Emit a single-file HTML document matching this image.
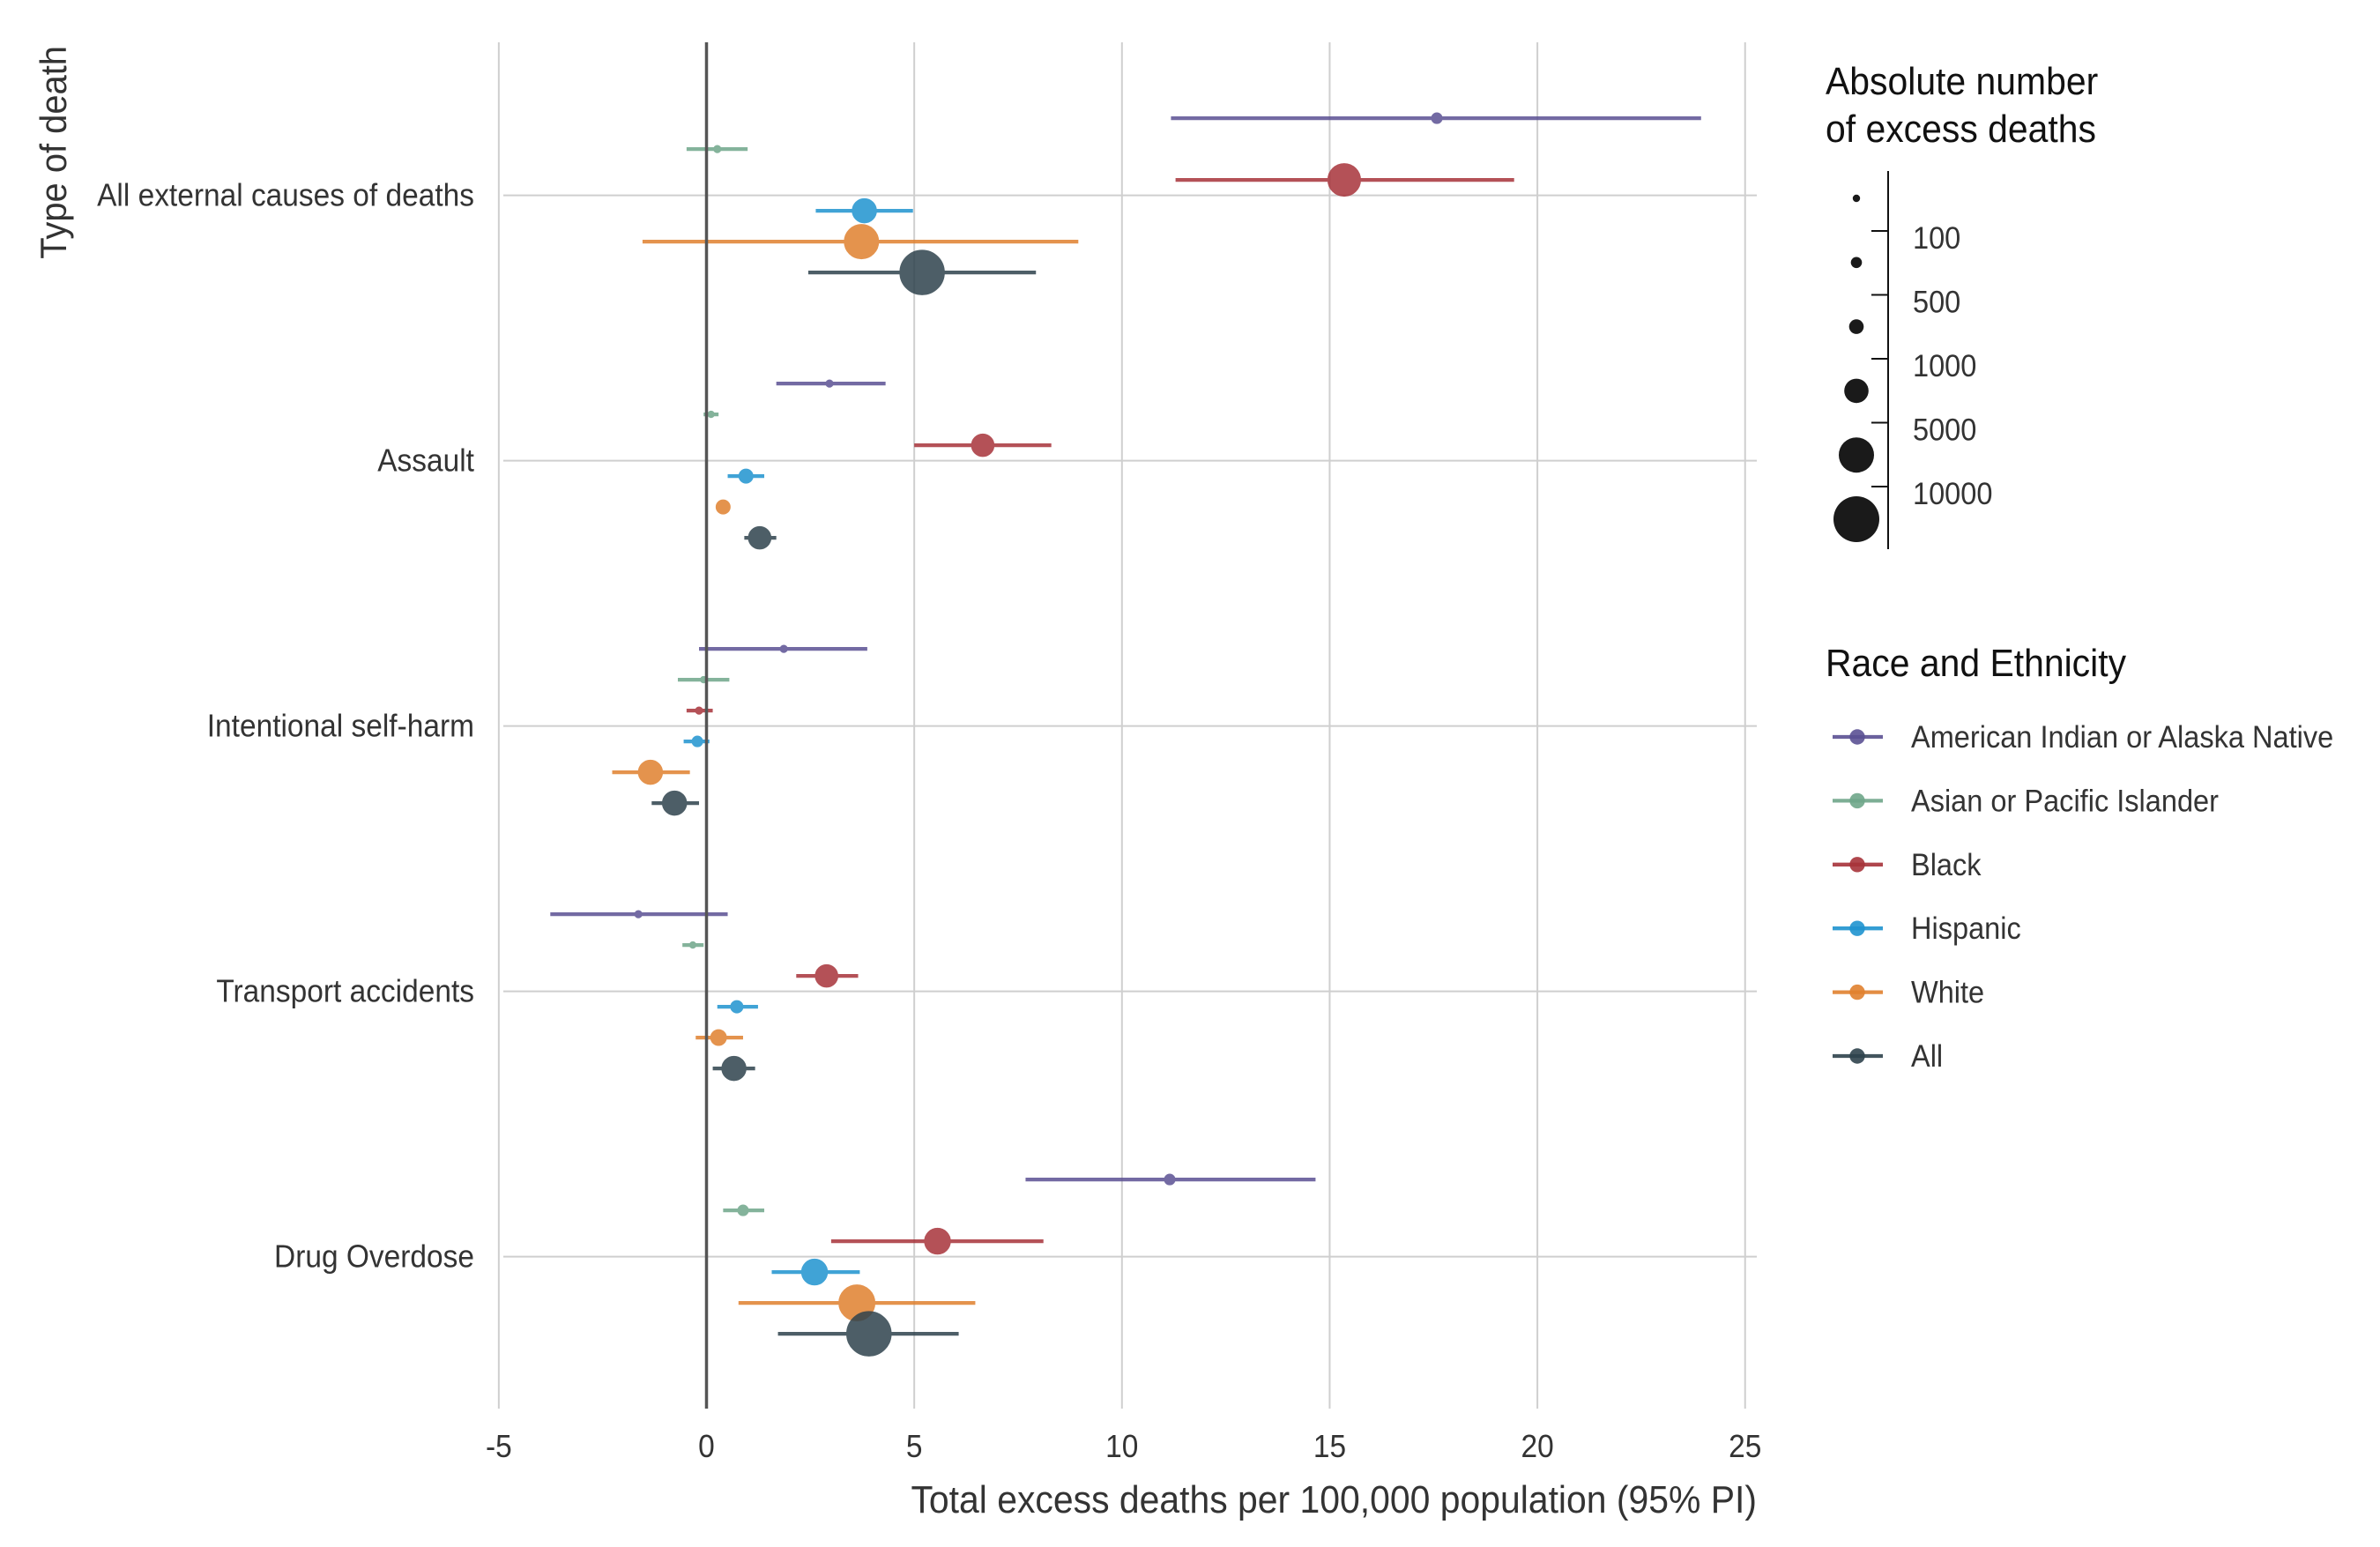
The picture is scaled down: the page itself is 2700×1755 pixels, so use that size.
<!DOCTYPE html>
<html><head><meta charset="utf-8"><style>
html,body{margin:0;padding:0;background:#fff;}
svg{display:block;font-family:"Liberation Sans",sans-serif;}
</style></head><body>
<svg id="chart" width="2700" height="1755" viewBox="0 0 2700 1755" xmlns="http://www.w3.org/2000/svg">
<g id="grid"></g>
<g id="marks"></g>
<g id="axes"></g>
<text transform="translate(75,52) rotate(-90) scale(0.95,1)" text-anchor="end" font-size="42" fill="#333">Type of death</text>
<text class="c" x="1993" y="1716" text-anchor="end" font-size="44" fill="#333">Total excess deaths per 100,000 population (95% PI)</text>
<g id="size-legend">
<text class="c" x="2071" y="107" font-size="44" fill="#111">Absolute number</text>
<text class="c" x="2071" y="161" font-size="44" fill="#111">of excess deaths</text>
<line x1="2142" y1="194" x2="2142" y2="623" stroke="#111" stroke-width="2"/>
</g>
<g id="color-legend">
<text class="c" x="2071" y="767" font-size="44" fill="#111">Race and Ethnicity</text>
</g>
</svg>
<script>
const categories = ["All external causes of deaths","Assault","Intentional self-harm","Transport accidents","Drug Overdose"];
const groups = ["American Indian or Alaska Native","Asian or Pacific Islander","Black","Hispanic","White","All"];
const colors = ["#5b5193","#6fa68a","#a7333a","#1f93cf","#e0812f","#2f434d"];
const xTicks = [-5,0,5,10,15,20,25];
const sizeLegendLabels = ["100","500","1000","5000","10000"];
// values per category, rows = groups
const estimate = [
 [17.58,0.26,15.35,3.80,3.73,5.19],
 [2.96,0.11,6.65,0.95,0.40,1.28],
 [1.86,-0.07,-0.18,-0.22,-1.35,-0.77],
 [-1.64,-0.33,2.89,0.73,0.29,0.66],
 [11.15,0.88,5.56,2.60,3.62,3.91]];
const lower = [
 [11.18,-0.48,11.29,2.63,-1.54,2.45],
 [1.68,-0.07,5.00,0.51,0.25,0.91],
 [-0.18,-0.69,-0.48,-0.55,-2.27,-1.32],
 [-3.76,-0.58,2.16,0.26,-0.26,0.15],
 [7.68,0.40,3.00,1.57,0.77,1.72]];
const upper = [
 [23.94,0.99,19.44,4.97,8.95,7.93],
 [4.31,0.29,8.30,1.39,0.55,1.68],
 [3.87,0.55,0.15,0.07,-0.40,-0.18],
 [0.51,-0.07,3.65,1.24,0.88,1.17],
 [14.66,1.39,8.11,3.69,6.47,6.07]];
const deaths = [
 [337,104,5102,2603,5701,10000],
 [104,67,2203,704,704,2203],
 [104,67,104,337,2603,2603],
 [104,67,2203,504,937,2603],
 [337,337,3036,3036,6335,10000]];

const NS="http://www.w3.org/2000/svg";
const X0=801.5, PX=47.13;
const xs=v=>X0+v*PX;
const catY=i=>221.6+i*301;
const rowY=(i,j)=>catY(i)+(j-2.5)*35;
const rs=n=>1.5+0.235*Math.sqrt(n);
function mk(tag,attrs,parent){const e=document.createElementNS(NS,tag);for(const k in attrs)e.setAttribute(k,attrs[k]);parent.appendChild(e);return e;}
const grid=document.getElementById('grid'),marks=document.getElementById('marks'),axes=document.getElementById('axes');
xTicks.forEach(t=>{
  const l=mk('line',{x1:xs(t),x2:xs(t),y1:48,y2:1598,stroke:t===0?'#555':'#cfcfcf','stroke-width':t===0?3.5:2},t===0?axes:grid);
  
  
  const tx=mk('text',{class:'c',x:xs(t),y:1653,'text-anchor':'middle','font-size':36,fill:'#333'},axes);
  tx.textContent=String(t);
  
  
});
categories.forEach((c,i)=>{
  const l=mk('line',{x1:571,x2:1993,y1:catY(i),y2:catY(i),stroke:'#cfcfcf','stroke-width':2},grid);
  
  
  const tx=mk('text',{class:'c',x:538,y:catY(i)+12,'text-anchor':'end','font-size':36,fill:'#333'},axes);
  tx.textContent=c;
  
  
  groups.forEach((g,j)=>{
    const y=rowY(i,j);
    const gg=mk('g',{opacity:0.85},marks);
    
    
    mk('line',{x1:xs(lower[i][j]),x2:xs(upper[i][j]),y1:y,y2:y,stroke:colors[j],'stroke-width':4.3},gg);
    mk('circle',{cx:xs(estimate[i][j]),cy:y,r:rs(deaths[i][j]),fill:colors[j],stroke:colors[j],'stroke-width':1.5},gg);
  });
});
// size legend
const sl=document.getElementById('size-legend');
const lr=[4.2,6.3,8.3,13.8,20,26];
lr.forEach((r,k)=>{
  const c=mk('circle',{cx:2106,cy:225+k*72.8,r:r,fill:'#1a1a1a'},sl);
  
  
});
sizeLegendLabels.forEach((s,k)=>{
  const y=262+k*72.5;
  mk('line',{x1:2123,x2:2142,y1:y,y2:y,stroke:'#111','stroke-width':2},sl);
  const t=mk('text',{class:'c',x:2170,y:y+20,'font-size':35,fill:'#333'},sl);
  t.textContent=s;
  
  
});
// color legend
const cl=document.getElementById('color-legend');
groups.forEach((g,j)=>{
  const y=836+j*72.4;
  const e=mk('g',{},cl);
  
  
  mk('line',{x1:2079,x2:2136,y1:y,y2:y,stroke:colors[j],'stroke-width':4.3,opacity:0.9},e);
  mk('circle',{cx:2107,cy:y,r:8.7,fill:colors[j],opacity:0.9},e);
  const t=mk('text',{class:'c',x:2168,y:y+12,'font-size':35,fill:'#333'},e);
  t.textContent=g;
});
// condense text horizontally
document.querySelectorAll('text.c').forEach(t=>{
  const x=parseFloat(t.getAttribute('x'));
  t.setAttribute('transform',`translate(${x},0) scale(0.93,1) translate(${-x},0)`);
});
</script>
</body></html>
